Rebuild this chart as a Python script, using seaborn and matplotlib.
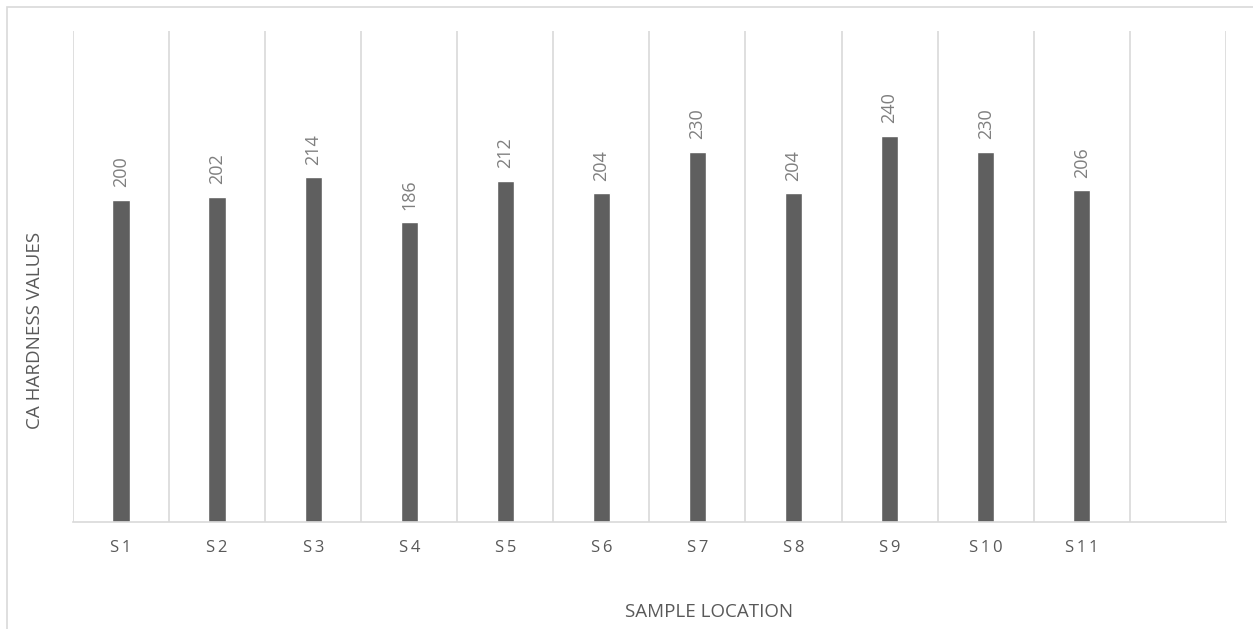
import matplotlib
matplotlib.use("Agg")
import matplotlib.pyplot as plt
from matplotlib.patches import Rectangle
import seaborn as sns
import pandas as pd

# Ca hardness per sample location
locations = ["S1", "S2", "S3", "S4", "S5", "S6", "S7", "S8", "S9", "S10", "S11"]
hardness = [200, 202, 214, 186, 212, 204, 230, 204, 240, 230, 206]

df = pd.DataFrame({"Location": locations, "Hardness": hardness})

sns.set_theme(style="white")
plt.rcParams["font.family"] = ["Open Sans", "DejaVu Sans"]

fig = plt.figure(figsize=(12.53, 6.29), dpi=100)
ax = fig.add_axes([0.0583, 0.170, 0.920, 0.781])

sns.barplot(data=df, x="Location", y="Hardness", color="#5f5f5f",
            width=0.18, saturation=1, ax=ax)

# one empty slot after S11, like the original
ax.set_xlim(-0.5, 11.5)
ax.set_ylim(0, 305)

ax.bar_label(ax.containers[0], rotation=90, padding=9, color="#7f7f7f", fontsize=13)

# vertical gridlines between categories
ax.set_xticks([i - 0.5 for i in range(13)], minor=True)
ax.grid(True, which="minor", axis="x", color="#d9d9d9", linewidth=1.2)
ax.tick_params(which="both", length=0)
ax.set_xticks(range(len(locations)))
# letter-spaced tick labels (thin space between characters)
ax.set_xticklabels(["\u2009".join(s) for s in locations], color="#595959", fontsize=12)
ax.tick_params(axis="x", pad=13)
ax.set_yticks([])

for side in ["top", "right", "left"]:
    ax.spines[side].set_visible(False)
ax.spines["bottom"].set_color("#d9d9d9")
ax.spines["bottom"].set_linewidth(1.2)

ax.set_xlabel("")
ax.set_ylabel("")
fig.text(0.566, 0.027, "SAMPLE LOCATION", ha="center", va="center",
         color="#595959", fontsize=13.5)
fig.text(0.028, 0.474, "CA HARDNESS VALUES", ha="center", va="center",
         rotation=90, color="#595959", fontsize=13.5)

# chart border (Excel style frame)
fig.patches.append(Rectangle((7 / 1253, -0.1), 1.5, 1 - 7 / 629 + 0.1,
                             transform=fig.transFigure, fill=False,
                             edgecolor="#d9d9d9", linewidth=1.2))

fig.savefig("out.png", dpi=100)
